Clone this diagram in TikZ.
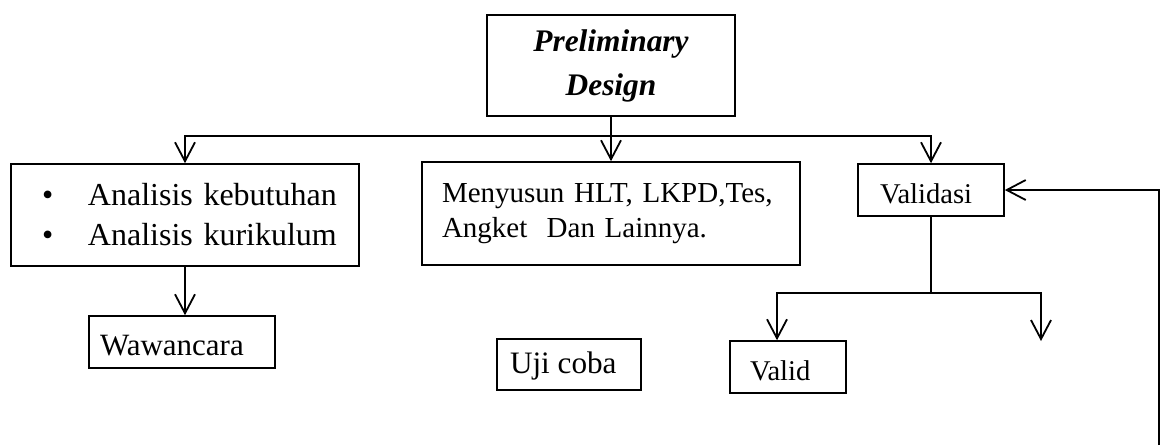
\documentclass[tikz,border=0pt]{standalone}
\usepackage{fontspec}
\setmainfont{Liberation Serif}
\usetikzlibrary{arrows.meta}
\begin{document}
\begin{tikzpicture}[x=0.5pt,y=-0.5pt,
  box/.style={draw, line width=0.8pt, align=left, inner ysep=0pt},
  onerow/.style={draw, line width=0.8pt, inner ysep=0pt, text height=14pt, text depth=1pt},
  link/.style={line width=0.9pt},
  arr/.style={line width=0.9pt, -{Straight Barb[length=9.5pt,width=10pt,line width=0.9pt]}}]
\useasboundingbox (0,0) rectangle (1162,446);

% boxes
\node[box, align=center, minimum width=124pt, minimum height=50.5pt,
      font={\fontsize{15.7pt}{22pt}\selectfont\bfseries\itshape}]
      (pd) at (611,65.5) {Preliminary\\Design};

\node[box, minimum width=174pt, minimum height=51pt, text width=148pt, inner xsep=13pt,
      font={\fontsize{16pt}{20pt}\selectfont}]
      (an) at (185,215)
      {\mbox{\hspace{2.5pt}\makebox[23pt][l]{•}Analisis kebutuhan}\\
       \mbox{\hspace{2.5pt}\makebox[23pt][l]{•}Analisis kurikulum}};

\node[box, minimum width=189pt, minimum height=51.5pt, text width=169pt, inner xsep=10pt,
      font={\fontsize{14.5pt}{17.5pt}\selectfont}]
      (mz) at (611,213.5)
      {\mbox{Menyusun HLT, LKPD,Tes,}\\\mbox{Angket\ \ Dan Lainnya.}};

\node[onerow, minimum height=26pt, inner xsep=11pt,
      font={\fontsize{14.3pt}{17pt}\selectfont}]
      (val) at (931,190) {\makebox[51pt][l]{Validasi}};

\node[onerow, minimum height=26pt, inner xsep=5.5pt,
      font={\fontsize{15.5pt}{18pt}\selectfont}]
      (waw) at (182,342) {\makebox[82pt][l]{Wawancara}};

\node[onerow, text height=12pt, text depth=3.5pt, minimum height=25.5pt, inner xsep=6.5pt,
      font={\fontsize{15.6pt}{18pt}\selectfont}]
      (uji) at (569,364.5) {\makebox[59pt][l]{Uji coba}};

\node[onerow, minimum height=26pt, inner xsep=10pt,
      font={\fontsize{14.3pt}{17pt}\selectfont}]
      (vd) at (788,367) {\makebox[38pt][l]{Valid}};

% connectors
\coordinate (bus) at (611,136);
\draw[arr] (pd.south) -- (mz.north);
\draw[arr] (bus) -| (an.north);
\draw[arr] (bus) -| (val.north);
\draw[arr] (an.south) -- (an.south |- waw.north);

\coordinate (fork) at (931,293);
\coordinate (forkL) at (777,293);
\coordinate (openend) at (1041,341);
\draw[link] (val.south) -- (fork);
\draw[arr] (fork) -- (forkL) -- (forkL |- vd.north);
\draw[arr] (fork) -| (openend);

\coordinate (loop) at (1159,445);
\draw[arr] (loop) |- (val.east);
\end{tikzpicture}
\end{document}
